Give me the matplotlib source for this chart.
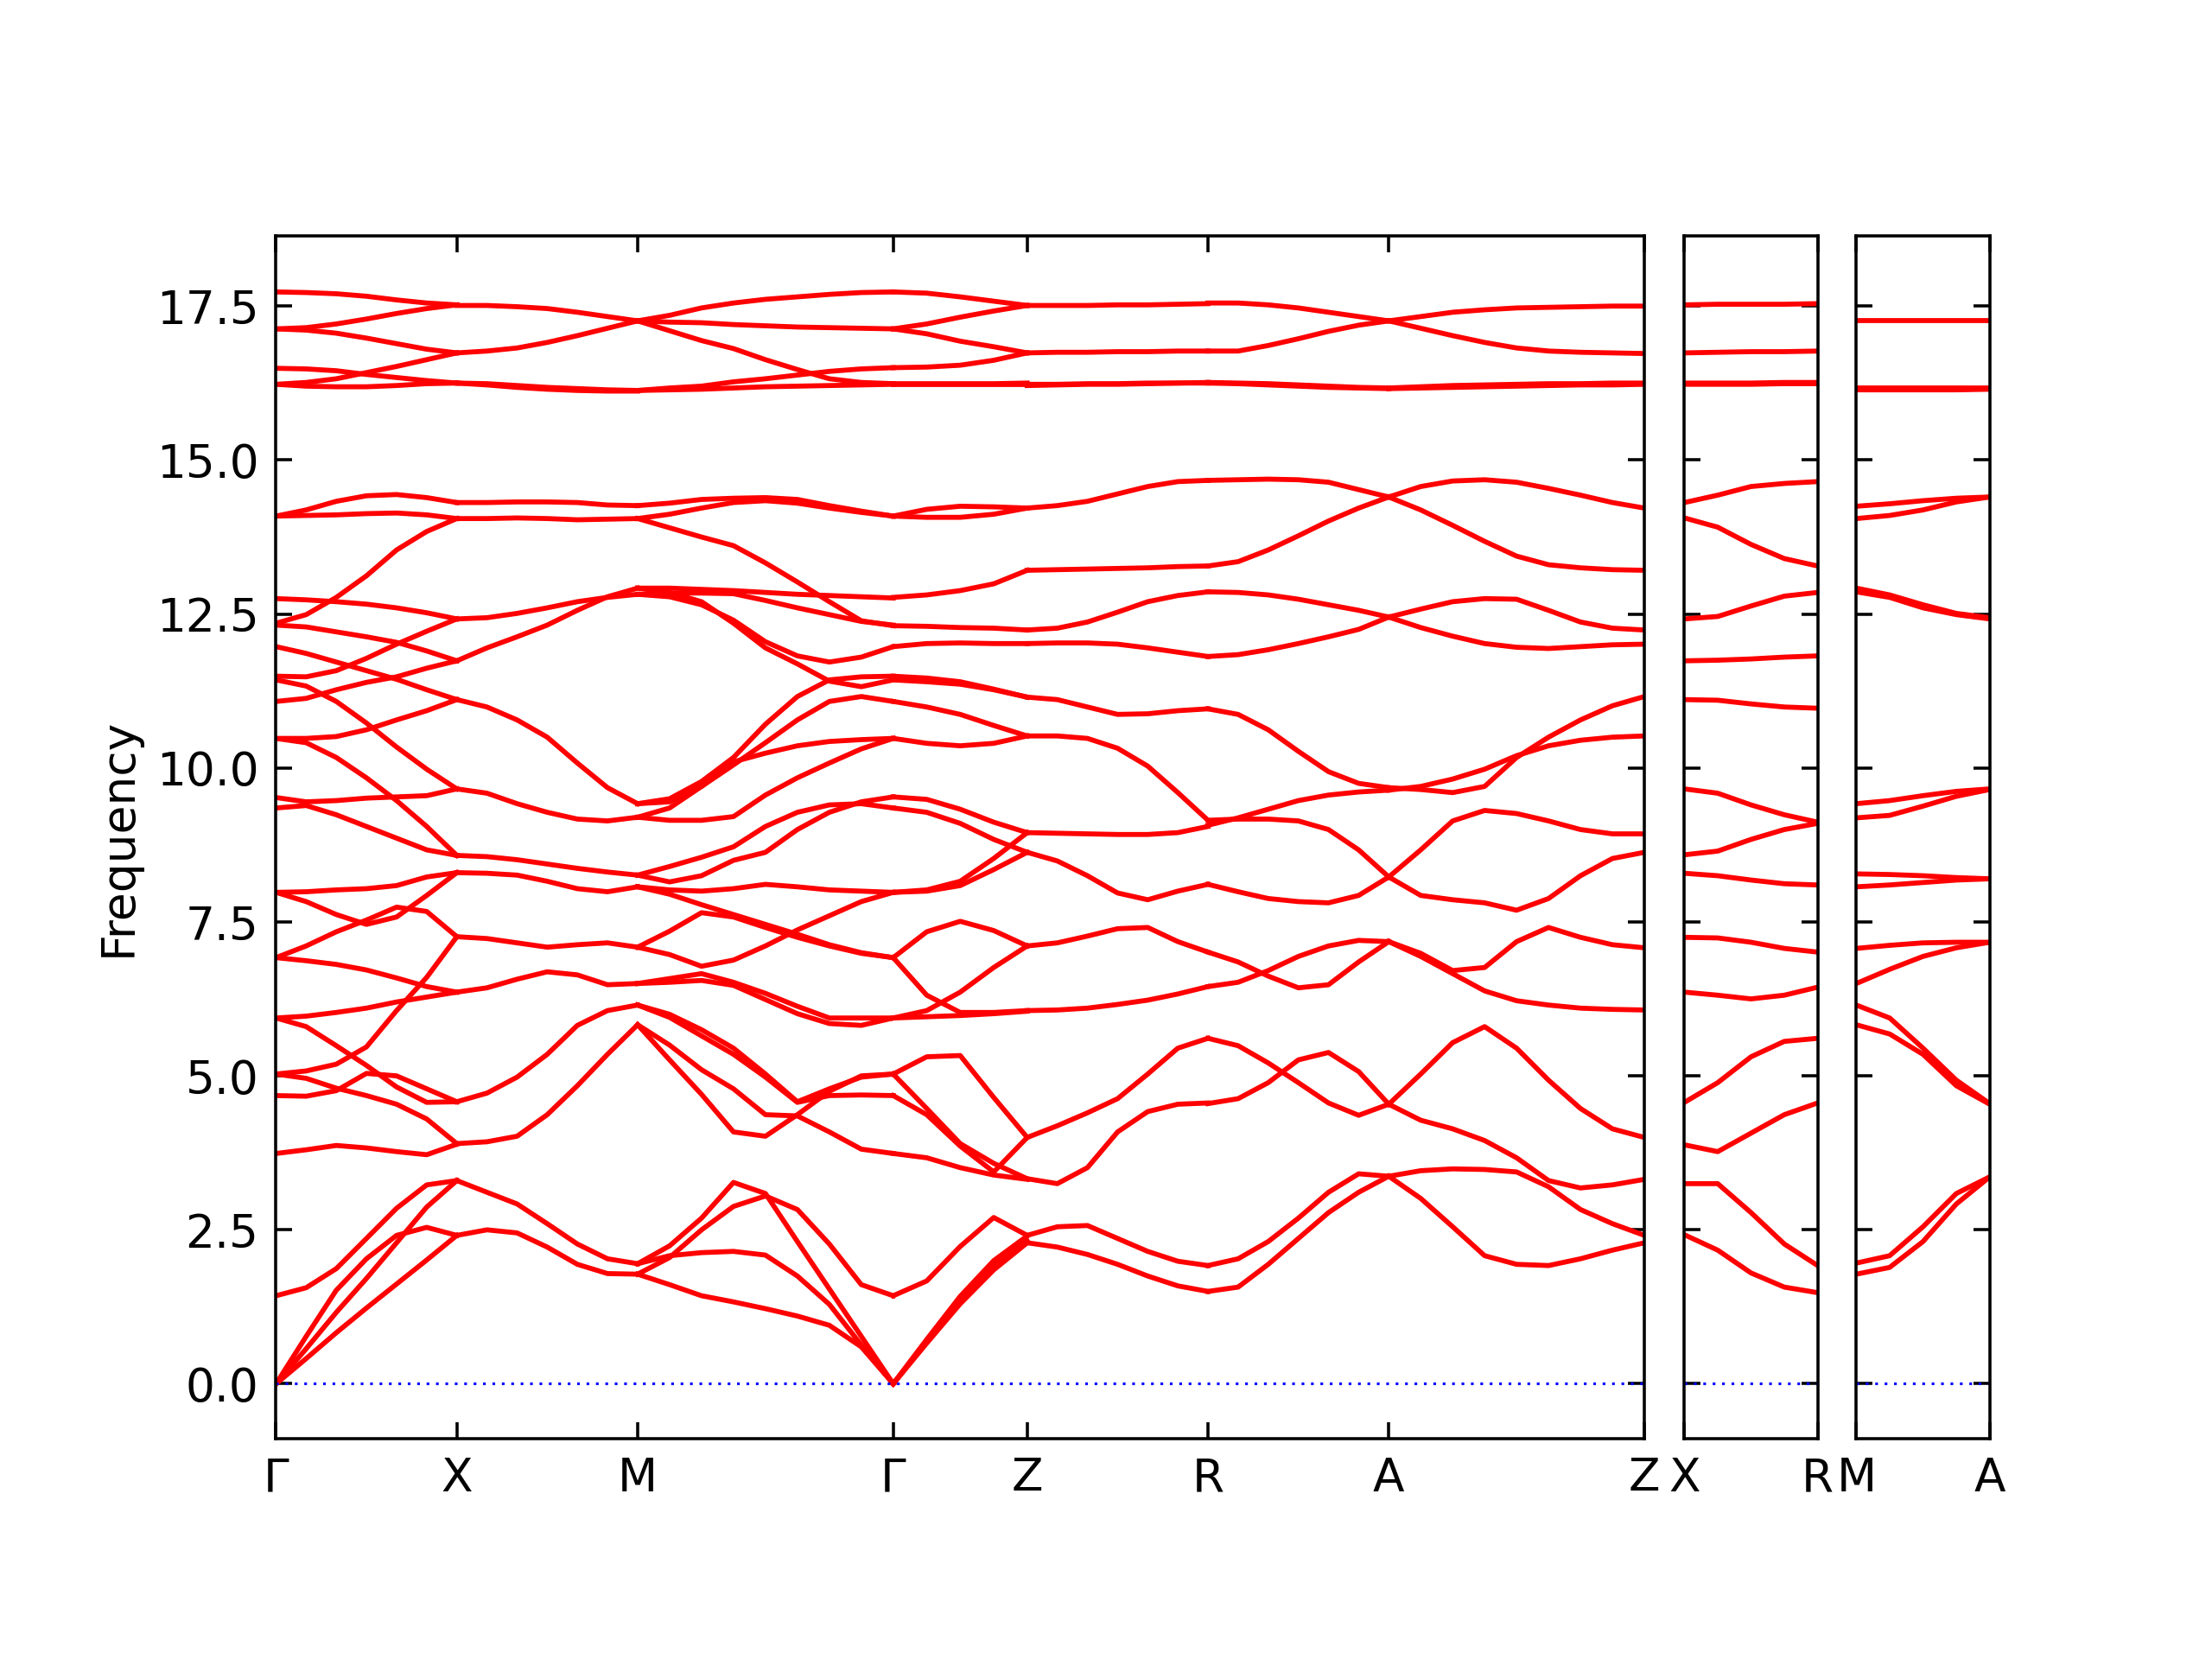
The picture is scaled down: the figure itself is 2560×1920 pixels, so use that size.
import numpy as np
import matplotlib
matplotlib.use("Agg")
import matplotlib.pyplot as plt

# q-path, segment lengths in units of a*
main_labels = ["Γ", "X", "M", "Γ", "Z", "R", "A", "Z"]
main_lengths = [1.0, 1.0, 1.414, 0.741, 1.0, 1.0, 1.414]
xr_labels = ["X", "R"]
xr_lengths = [0.741]
ma_labels = ["M", "A"]
ma_lengths = [0.741]

# frequencies, one row per band, evenly spaced q-points
gx_bands = [
    [17.73, 17.72, 17.70, 17.66, 17.60, 17.55, 17.52],
    [17.13, 17.15, 17.21, 17.29, 17.38, 17.46, 17.52],
    [17.13, 17.11, 17.06, 16.98, 16.89, 16.80, 16.74],
    [16.49, 16.48, 16.45, 16.39, 16.34, 16.29, 16.25],
    [16.23, 16.26, 16.32, 16.42, 16.52, 16.63, 16.74],
    [16.23, 16.20, 16.19, 16.19, 16.21, 16.24, 16.25],
    [14.09, 14.19, 14.33, 14.42, 14.44, 14.39, 14.31],
    [14.09, 14.10, 14.11, 14.13, 14.14, 14.11, 14.05],
    [12.75, 12.73, 12.70, 12.66, 12.60, 12.52, 12.42],
    [12.35, 12.49, 12.77, 13.12, 13.54, 13.84, 14.05],
    [12.32, 12.29, 12.21, 12.13, 12.04, 11.90, 11.74],
    [11.97, 11.86, 11.72, 11.58, 11.44, 11.27, 11.11],
    [11.49, 11.48, 11.58, 11.78, 12.01, 12.22, 12.42],
    [11.43, 11.33, 11.08, 10.73, 10.34, 9.98, 9.66],
    [11.08, 11.13, 11.27, 11.39, 11.48, 11.62, 11.74],
    [10.48, 10.48, 10.51, 10.62, 10.78, 10.93, 11.11],
    [10.48, 10.41, 10.17, 9.84, 9.47, 9.05, 8.58],
    [9.52, 9.45, 9.47, 9.51, 9.53, 9.55, 9.66],
    [9.35, 9.39, 9.24, 9.05, 8.86, 8.67, 8.58],
    [7.98, 7.99, 8.02, 8.04, 8.09, 8.23, 8.30],
    [7.98, 7.83, 7.62, 7.46, 7.58, 7.93, 8.30],
    [6.92, 7.11, 7.34, 7.53, 7.74, 7.67, 7.26],
    [6.92, 6.87, 6.81, 6.72, 6.59, 6.45, 6.36],
    [5.94, 5.97, 6.03, 6.10, 6.20, 6.28, 6.36],
    [5.94, 5.80, 5.49, 5.17, 4.82, 4.57, 4.58],
    [5.03, 5.08, 5.19, 5.47, 6.06, 6.60, 7.26],
    [5.03, 4.96, 4.80, 4.68, 4.54, 4.30, 3.90],
    [4.68, 4.67, 4.76, 5.04, 5.00, 4.79, 4.58],
    [3.74, 3.80, 3.87, 3.83, 3.77, 3.72, 3.89],
    [1.43, 1.56, 1.87, 2.36, 2.85, 3.23, 3.30],
    [0.00, 0.77, 1.52, 2.03, 2.41, 2.54, 2.41],
    [0.00, 0.57, 1.16, 1.71, 2.29, 2.87, 3.30],
    [0.00, 0.41, 0.83, 1.23, 1.62, 2.01, 2.41],
]

xm_bands = [
    [17.51, 17.51, 17.49, 17.46, 17.40, 17.33, 17.26],
    [16.74, 16.77, 16.82, 16.91, 17.02, 17.14, 17.26],
    [16.25, 16.24, 16.21, 16.18, 16.16, 16.14, 16.13],
    [16.25, 16.22, 16.18, 16.15, 16.13, 16.12, 16.12],
    [14.31, 14.31, 14.32, 14.32, 14.31, 14.27, 14.26],
    [14.05, 14.05, 14.06, 14.05, 14.03, 14.04, 14.05],
    [12.42, 12.44, 12.51, 12.60, 12.70, 12.77, 12.82],
    [11.74, 11.95, 12.13, 12.32, 12.56, 12.78, 12.92],
    [11.11, 10.99, 10.78, 10.50, 10.08, 9.68, 9.42],
    [9.66, 9.59, 9.42, 9.28, 9.17, 9.14, 9.20],
    [8.58, 8.56, 8.51, 8.44, 8.37, 8.31, 8.26],
    [8.30, 8.29, 8.26, 8.16, 8.04, 7.99, 8.07],
    [7.26, 7.23, 7.16, 7.09, 7.13, 7.16, 7.09],
    [6.36, 6.43, 6.57, 6.69, 6.64, 6.48, 6.50],
    [4.58, 4.72, 4.98, 5.35, 5.82, 6.06, 6.15],
    [3.90, 3.93, 4.02, 4.37, 4.84, 5.35, 5.83],
    [3.30, 3.11, 2.92, 2.60, 2.27, 2.03, 1.95],
    [2.41, 2.50, 2.45, 2.22, 1.94, 1.79, 1.78],
]

mg_bands = [
    [17.26, 17.35, 17.47, 17.55, 17.61, 17.65, 17.69, 17.72, 17.73],
    [17.26, 17.24, 17.23, 17.20, 17.18, 17.16, 17.15, 17.14, 17.13],
    [17.26, 17.10, 16.94, 16.81, 16.63, 16.47, 16.32, 16.26, 16.24],
    [16.13, 16.17, 16.20, 16.27, 16.32, 16.38, 16.44, 16.48, 16.50],
    [16.13, 16.14, 16.15, 16.17, 16.19, 16.20, 16.21, 16.22, 16.23],
    [14.26, 14.30, 14.36, 14.38, 14.39, 14.36, 14.26, 14.17, 14.09],
    [14.05, 14.12, 14.22, 14.31, 14.34, 14.30, 14.22, 14.15, 14.09],
    [14.05, 13.90, 13.75, 13.61, 13.33, 13.02, 12.70, 12.39, 12.31],
    [12.92, 12.92, 12.90, 12.88, 12.85, 12.82, 12.80, 12.78, 12.76],
    [12.82, 12.84, 12.84, 12.83, 12.72, 12.60, 12.49, 12.38, 12.32],
    [12.82, 12.78, 12.65, 12.40, 12.05, 11.82, 11.72, 11.80, 11.97],
    [12.92, 12.85, 12.70, 12.35, 11.95, 11.69, 11.41, 11.32, 11.43],
    [9.42, 9.50, 9.78, 10.17, 10.71, 11.16, 11.43, 11.48, 11.49],
    [9.42, 9.45, 9.70, 10.05, 10.41, 10.78, 11.08, 11.16, 11.08],
    [9.20, 9.35, 9.70, 10.10, 10.24, 10.36, 10.43, 10.46, 10.48],
    [9.20, 9.15, 9.15, 9.21, 9.56, 9.84, 10.08, 10.31, 10.48],
    [8.26, 8.40, 8.55, 8.72, 9.05, 9.28, 9.40, 9.42, 9.35],
    [8.26, 8.15, 8.25, 8.50, 8.63, 9.00, 9.28, 9.45, 9.53],
    [8.07, 8.02, 8.00, 8.04, 8.11, 8.07, 8.02, 8.00, 7.98],
    [8.07, 7.95, 7.78, 7.62, 7.46, 7.30, 7.13, 7.00, 6.92],
    [7.09, 7.35, 7.65, 7.58, 7.41, 7.25, 7.11, 6.99, 6.92],
    [7.09, 6.97, 6.78, 6.88, 7.11, 7.37, 7.60, 7.83, 7.98],
    [6.50, 6.58, 6.66, 6.52, 6.34, 6.13, 5.94, 5.94, 5.94],
    [6.50, 6.52, 6.55, 6.47, 6.24, 6.01, 5.85, 5.82, 5.94],
    [6.15, 6.00, 5.75, 5.45, 5.03, 4.58, 4.79, 4.98, 5.03],
    [6.15, 5.95, 5.65, 5.35, 4.98, 4.57, 4.68, 4.69, 4.68],
    [5.83, 5.50, 5.10, 4.79, 4.37, 4.35, 4.09, 3.81, 3.74],
    [5.83, 5.26, 4.70, 4.09, 4.02, 4.37, 4.75, 5.00, 5.03],
    [1.95, 2.24, 2.69, 3.27, 3.09, 2.31, 1.54, 0.77, 0.00],
    [1.78, 2.05, 2.50, 2.88, 3.05, 2.83, 2.27, 1.61, 1.43],
    [1.95, 2.08, 2.13, 2.15, 2.09, 1.75, 1.29, 0.63, 0.00],
    [1.78, 1.61, 1.43, 1.33, 1.22, 1.10, 0.95, 0.60, 0.00],
]

gz_bands = [
    [17.73, 17.71, 17.65, 17.58, 17.51],
    [17.13, 17.21, 17.32, 17.42, 17.51],
    [17.13, 17.05, 16.93, 16.84, 16.74],
    [16.50, 16.51, 16.54, 16.62, 16.74],
    [16.23, 16.23, 16.23, 16.23, 16.23],
    [16.24, 16.24, 16.24, 16.24, 16.25],
    [14.09, 14.20, 14.25, 14.24, 14.22],
    [14.09, 14.07, 14.07, 14.12, 14.22],
    [12.77, 12.81, 12.88, 12.99, 13.21],
    [12.31, 12.30, 12.28, 12.27, 12.24],
    [11.97, 12.02, 12.03, 12.02, 12.02],
    [11.49, 11.46, 11.40, 11.28, 11.15],
    [11.43, 11.40, 11.36, 11.27, 11.15],
    [11.08, 10.99, 10.87, 10.69, 10.52],
    [10.48, 10.40, 10.36, 10.40, 10.52],
    [9.53, 9.49, 9.33, 9.12, 8.95],
    [9.35, 9.28, 9.10, 8.84, 8.63],
    [7.98, 8.02, 8.16, 8.53, 8.95],
    [7.98, 8.00, 8.09, 8.35, 8.63],
    [6.92, 7.34, 7.51, 7.36, 7.11],
    [6.92, 6.31, 6.03, 6.03, 6.06],
    [5.94, 6.06, 6.36, 6.76, 7.11],
    [5.94, 5.96, 5.98, 6.01, 6.05],
    [5.03, 5.31, 5.33, 4.65, 4.00],
    [5.03, 4.47, 3.90, 3.58, 3.33],
    [4.68, 4.37, 3.86, 3.44, 4.00],
    [3.74, 3.67, 3.51, 3.39, 3.32],
    [1.43, 1.67, 2.23, 2.70, 2.41],
    [0.00, 0.70, 1.38, 1.95, 2.32],
    [0.00, 0.66, 1.30, 1.85, 2.29],
    [0.00, 0.72, 1.42, 2.00, 2.40],
]

zr_bands = [
    [17.51, 17.51, 17.51, 17.52, 17.52, 17.53, 17.54],
    [16.74, 16.75, 16.75, 16.76, 16.76, 16.77, 16.77],
    [16.23, 16.23, 16.24, 16.24, 16.25, 16.25, 16.25],
    [16.21, 16.22, 16.23, 16.23, 16.24, 16.25, 16.26],
    [14.22, 14.26, 14.33, 14.45, 14.57, 14.65, 14.67],
    [13.21, 13.22, 13.23, 13.24, 13.25, 13.27, 13.28],
    [12.24, 12.27, 12.37, 12.53, 12.70, 12.80, 12.86],
    [12.02, 12.03, 12.03, 12.01, 11.95, 11.88, 11.81],
    [11.15, 11.11, 10.99, 10.87, 10.88, 10.93, 10.96],
    [10.52, 10.52, 10.48, 10.32, 10.03, 9.60, 9.15],
    [8.95, 8.94, 8.93, 8.92, 8.92, 8.95, 9.05],
    [8.63, 8.49, 8.25, 7.97, 7.86, 8.00, 8.11],
    [7.11, 7.16, 7.27, 7.39, 7.41, 7.18, 7.01],
    [6.06, 6.07, 6.10, 6.16, 6.23, 6.33, 6.45],
    [4.00, 4.19, 4.40, 4.63, 5.03, 5.45, 5.61],
    [3.33, 3.25, 3.51, 4.09, 4.42, 4.54, 4.56],
    [2.41, 2.55, 2.57, 2.36, 2.15, 1.99, 1.92],
    [2.29, 2.22, 2.10, 1.94, 1.75, 1.59, 1.50],
]

ra_bands = [
    [17.55, 17.55, 17.52, 17.47, 17.40, 17.33, 17.26],
    [16.77, 16.77, 16.86, 16.97, 17.09, 17.19, 17.26],
    [16.25, 16.24, 16.22, 16.20, 16.18, 16.17, 16.16],
    [16.26, 16.25, 16.24, 16.22, 16.20, 16.18, 16.17],
    [14.67, 14.68, 14.69, 14.68, 14.64, 14.52, 14.40],
    [13.28, 13.35, 13.54, 13.77, 14.01, 14.22, 14.40],
    [12.86, 12.85, 12.81, 12.74, 12.65, 12.56, 12.45],
    [11.81, 11.84, 11.92, 12.02, 12.13, 12.25, 12.45],
    [10.96, 10.87, 10.62, 10.27, 9.94, 9.75, 9.68],
    [9.07, 9.19, 9.33, 9.47, 9.56, 9.61, 9.64],
    [9.15, 9.17, 9.17, 9.14, 9.00, 8.67, 8.23],
    [8.11, 7.99, 7.88, 7.83, 7.81, 7.93, 8.23],
    [7.01, 6.85, 6.62, 6.43, 6.48, 6.85, 7.18],
    [6.45, 6.52, 6.71, 6.94, 7.11, 7.20, 7.18],
    [5.61, 5.49, 5.21, 4.89, 4.56, 4.36, 4.54],
    [4.55, 4.63, 4.89, 5.26, 5.38, 5.07, 4.54],
    [1.92, 2.03, 2.31, 2.69, 3.11, 3.41, 3.37],
    [1.50, 1.57, 1.94, 2.36, 2.78, 3.11, 3.37],
]

az_bands = [
    [17.26, 17.33, 17.40, 17.44, 17.47, 17.48, 17.49, 17.50, 17.50],
    [17.26, 17.14, 17.02, 16.91, 16.82, 16.77, 16.75, 16.74, 16.73],
    [16.16, 16.17, 16.18, 16.19, 16.20, 16.21, 16.22, 16.22, 16.23],
    [16.17, 16.19, 16.21, 16.22, 16.23, 16.24, 16.24, 16.25, 16.25],
    [14.40, 14.57, 14.66, 14.68, 14.64, 14.54, 14.43, 14.31, 14.22],
    [14.40, 14.19, 13.94, 13.68, 13.44, 13.30, 13.25, 13.22, 13.21],
    [12.45, 12.58, 12.70, 12.75, 12.74, 12.56, 12.37, 12.27, 12.24],
    [12.45, 12.28, 12.14, 12.02, 11.96, 11.94, 11.97, 12.00, 12.01],
    [9.68, 9.65, 9.60, 9.70, 10.17, 10.50, 10.78, 11.01, 11.16],
    [9.64, 9.70, 9.82, 9.98, 10.20, 10.36, 10.45, 10.50, 10.52],
    [8.23, 8.67, 9.14, 9.31, 9.26, 9.14, 9.00, 8.93, 8.93],
    [8.23, 7.93, 7.86, 7.81, 7.69, 7.88, 8.25, 8.53, 8.63],
    [7.18, 6.99, 6.71, 6.76, 7.18, 7.41, 7.25, 7.13, 7.08],
    [7.18, 6.94, 6.66, 6.38, 6.22, 6.15, 6.10, 6.08, 6.07],
    [4.54, 5.03, 5.54, 5.80, 5.45, 4.93, 4.47, 4.14, 4.00],
    [4.54, 4.28, 4.14, 3.95, 3.67, 3.30, 3.18, 3.23, 3.32],
    [3.37, 3.46, 3.49, 3.48, 3.44, 3.20, 2.83, 2.60, 2.41],
    [3.37, 3.01, 2.55, 2.08, 1.94, 1.92, 2.03, 2.17, 2.29],
]

xr_bands = [
    [17.52, 17.53, 17.53, 17.53, 17.54],
    [16.74, 16.75, 16.76, 16.76, 16.77],
    [16.25, 16.25, 16.25, 16.26, 16.26],
    [16.23, 16.23, 16.23, 16.24, 16.24],
    [14.31, 14.43, 14.57, 14.62, 14.65],
    [14.06, 13.91, 13.63, 13.40, 13.28],
    [12.42, 12.46, 12.63, 12.79, 12.85],
    [11.74, 11.75, 11.77, 11.80, 11.82],
    [11.11, 11.10, 11.04, 10.99, 10.97],
    [9.66, 9.59, 9.40, 9.24, 9.12],
    [8.59, 8.65, 8.84, 9.00, 9.10],
    [8.29, 8.25, 8.18, 8.12, 8.10],
    [7.25, 7.24, 7.17, 7.07, 7.01],
    [6.36, 6.31, 6.25, 6.31, 6.44],
    [4.57, 4.89, 5.31, 5.56, 5.61],
    [3.88, 3.77, 4.07, 4.37, 4.56],
    [3.25, 3.25, 2.78, 2.27, 1.92],
    [2.42, 2.17, 1.80, 1.57, 1.48],
]

ma_bands = [
    [17.26, 17.26, 17.26, 17.26, 17.26],
    [16.17, 16.17, 16.17, 16.17, 16.17],
    [16.14, 16.14, 16.14, 16.14, 16.15],
    [14.25, 14.29, 14.34, 14.38, 14.40],
    [14.05, 14.10, 14.19, 14.32, 14.40],
    [12.92, 12.81, 12.65, 12.51, 12.44],
    [12.86, 12.77, 12.60, 12.49, 12.42],
    [9.42, 9.47, 9.55, 9.62, 9.66],
    [9.19, 9.23, 9.38, 9.54, 9.65],
    [8.28, 8.27, 8.25, 8.22, 8.20],
    [8.07, 8.10, 8.14, 8.18, 8.20],
    [7.07, 7.12, 7.16, 7.17, 7.17],
    [6.50, 6.73, 6.94, 7.08, 7.17],
    [6.15, 5.94, 5.45, 4.93, 4.55],
    [5.83, 5.68, 5.35, 4.84, 4.54],
    [1.96, 2.08, 2.55, 3.09, 3.36],
    [1.78, 1.89, 2.31, 2.92, 3.36],
]

main_segments = [gx_bands, xm_bands, mg_bands, gz_bands, zr_bands, ra_bands, az_bands]


def draw_path(ax, lengths, segments, labels):
    ticks = np.concatenate([[0.0], np.cumsum(lengths)])
    for i, bands in enumerate(segments):
        for band in bands:
            q = np.linspace(ticks[i], ticks[i + 1], len(band))
            ax.plot(q, band, color="r", lw=1.3, solid_joinstyle="round")
    ax.axhline(0, color="b", lw=0.7, ls=(0, (1, 2.5)))
    ax.set_xlim(ticks[0], ticks[-1])
    ax.set_ylim(-0.894, 18.645)
    ax.set_xticks(ticks)
    ax.set_xticklabels(labels)
    ax.set_yticks(np.arange(0, 17.6, 2.5))
    ax.tick_params(direction="in", top=True, right=True, labelsize=12,
                   length=4.3, pad=4.5)


fig = plt.figure(figsize=(8, 6), dpi=320)
ax_main = fig.add_axes([0.1248, 0.1327, 0.6186, 0.7253])
ax_xr = fig.add_axes([0.7615, 0.1327, 0.0602, 0.7253])
ax_ma = fig.add_axes([0.8392, 0.1327, 0.0603, 0.7253])

draw_path(ax_main, main_lengths, main_segments, main_labels)
draw_path(ax_xr, xr_lengths, [xr_bands], xr_labels)
draw_path(ax_ma, ma_lengths, [ma_bands], ma_labels)

ax_main.yaxis.set_major_formatter(matplotlib.ticker.FormatStrFormatter("%.1f"))
ax_main.set_ylabel("Frequency", fontsize=12, labelpad=4)
ax_xr.set_yticklabels([])
ax_ma.set_yticklabels([])

fig.savefig("out.png", dpi=320)
